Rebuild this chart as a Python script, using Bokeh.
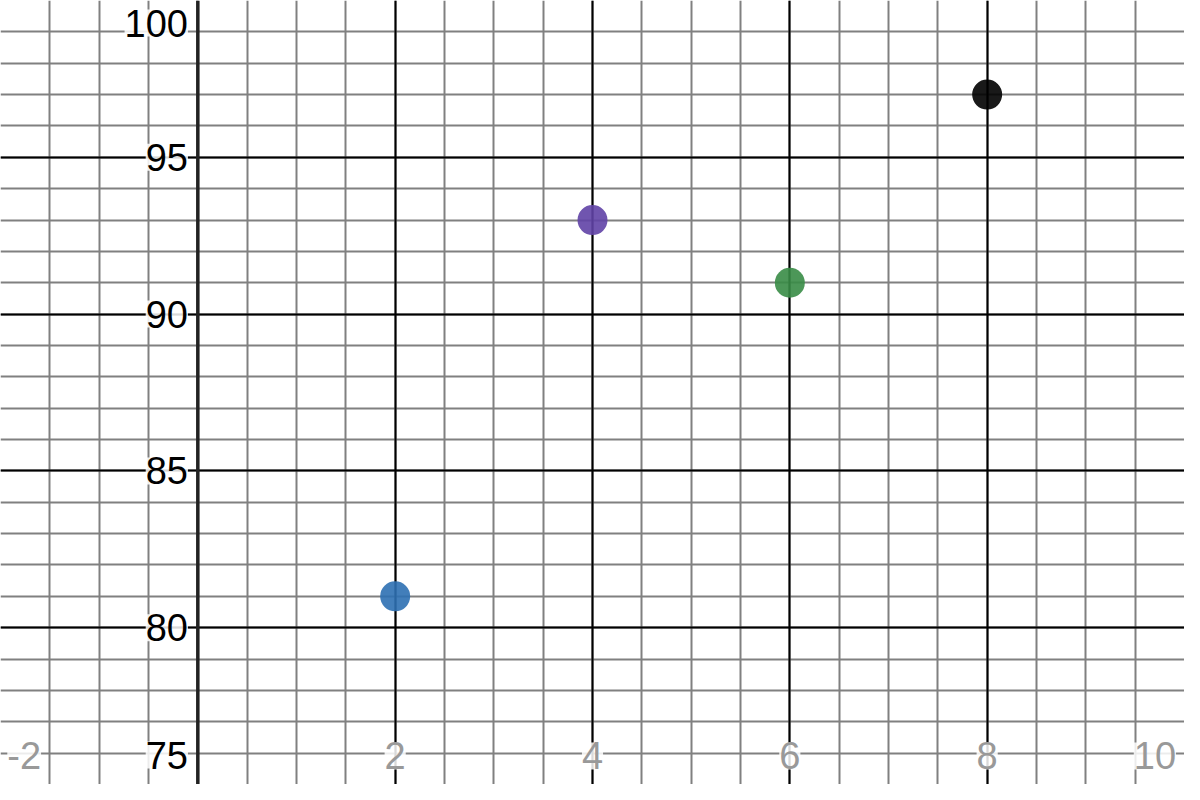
from bokeh.plotting import figure
from bokeh.models import Grid, FixedTicker, Span, ColumnDataSource, Range1d
from bokeh.core.properties import value
from bokeh.embed import file_html
from bokeh.resources import INLINE

# data
xs = [2, 4, 6, 8]
ys = [81, 93, 91, 97]
colors = ["#2d70b3", "#6042a6", "#388c46", "#000000"]

x_ticks = [-2, 2, 4, 6, 8, 10]
y_ticks = [75, 80, 85, 90, 95, 100]
x_labels = ["-2", "2", "4", "6", "8", "10"]
y_labels = ["75", "80", "85", "90", "95", "100"]

major_x = [-2, 2, 4, 6, 8, 10]
minor_x = [v / 2 for v in range(-4, 21)]
major_y = [75, 80, 85, 90, 95, 100]
minor_y = list(range(75, 101))

W, H = 1184, 784
p = figure(width=W, height=H, output_backend="svg", toolbar_location=None,
           x_range=Range1d(-2, 10), y_range=Range1d(75, 100),
           x_axis_location=None, y_axis_location=None, min_border=0)
p.outline_line_color = None
p.background_fill_color = "white"
p.border_fill_color = "white"
p.grid.visible = False

p.add_layout(Grid(dimension=0, ticker=FixedTicker(ticks=minor_x),
                  grid_line_color="#808080", grid_line_width=2))
p.add_layout(Grid(dimension=1, ticker=FixedTicker(ticks=minor_y),
                  grid_line_color="#808080", grid_line_width=2))
p.add_layout(Grid(dimension=0, ticker=FixedTicker(ticks=major_x),
                  grid_line_color="#000000", grid_line_width=2))
p.add_layout(Grid(dimension=1, ticker=FixedTicker(ticks=major_y),
                  grid_line_color="#000000", grid_line_width=2))
p.add_layout(Span(location=0, dimension="height", line_color="#222222", line_width=3.5))

p.scatter(xs, ys, size=30, fill_color=colors, line_color=None, fill_alpha=0.9)

def clamp(v, lo, hi):
    return max(lo, min(hi, v))

# y-axis labels (right-aligned just left of x=0 axis)
ysrc = ColumnDataSource(dict(x=[-0.10] * len(y_ticks),
                             y=[clamp(v, 75.94, 99.28) for v in y_ticks],
                             t=y_labels))
p.text(x="x", y="y", text="t", source=ysrc, text_align="right", text_baseline="middle",
       text_font=value("Liberation Sans"), text_font_size="38px", text_color="#000000",
       text_line_height=1.0,
       background_fill_color="white", background_fill_alpha=0.85)

# x-axis labels (gray, at bottom edge)
xsrc = ColumnDataSource(dict(x=[clamp(v, -1.76, 9.70) for v in x_ticks],
                             y=[75.91] * len(x_ticks),
                             t=x_labels))
p.text(x="x", y="y", text="t", source=xsrc, text_align="center", text_baseline="middle",
       text_font=value("Liberation Sans"), text_font_size="38px", text_color="#999999",
       text_line_height=1.0,
       background_fill_color="white", background_fill_alpha=0.85)

open("out.html", "w").write(file_html(p, INLINE))
